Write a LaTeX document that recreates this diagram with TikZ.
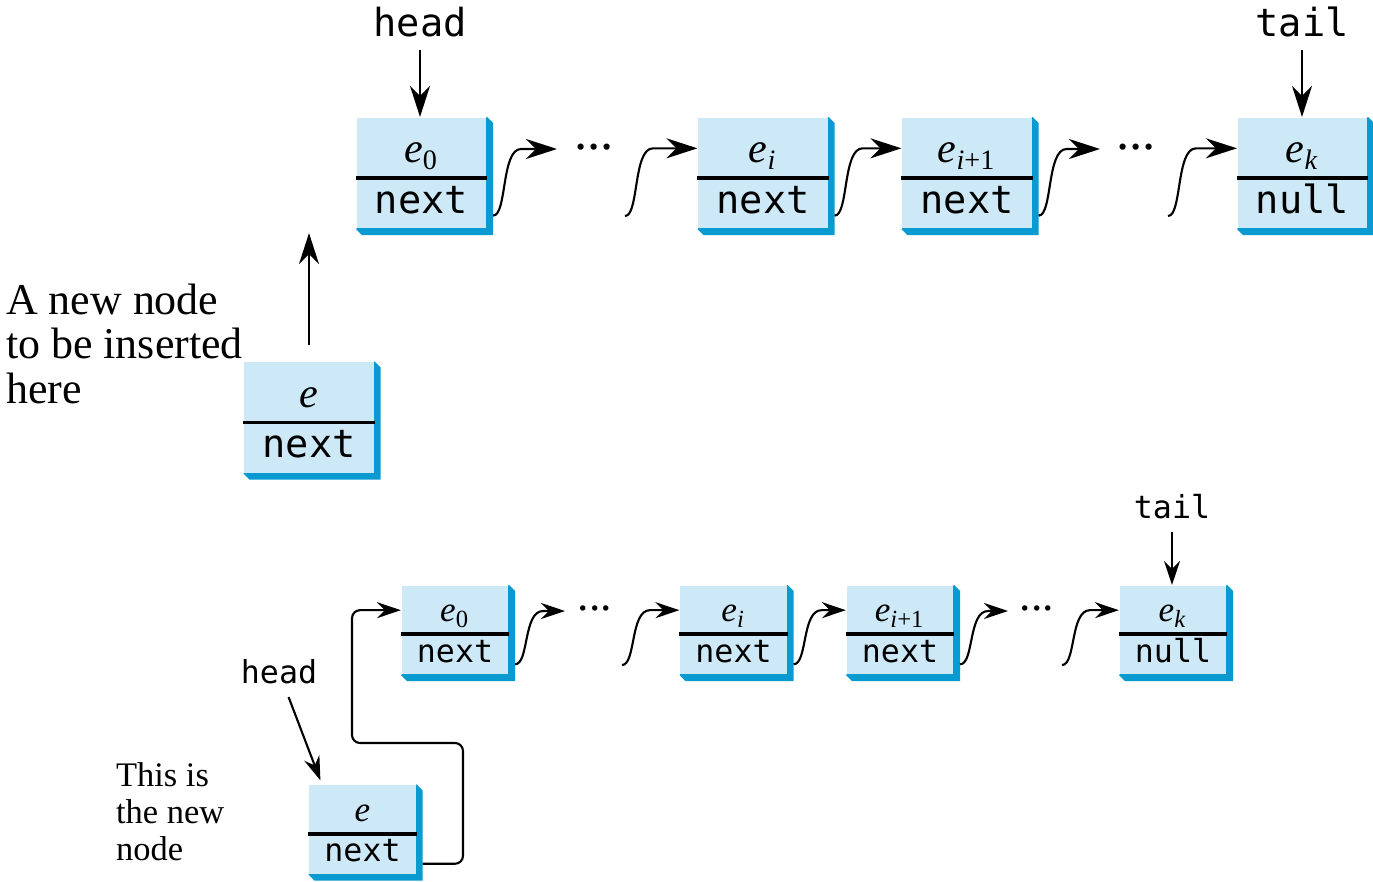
\documentclass[tikz,border=0pt]{standalone}
\usepackage{fontspec}
\setmainfont{Liberation Serif}
\setmonofont{DejaVu Sans Mono}
\usepackage{tikz}
\usetikzlibrary{arrows.meta,calc,positioning,backgrounds}
\definecolor{cellfill}{HTML}{CDE9F7}
\definecolor{cellshade}{HTML}{0A9AD2}

\newcommand\elem[1]{\textit{e}\textsubscript{#1}}
% one list node: style, name, centre, element, link field
\newcommand\listcell[5]{%
    \node[#1] (#2) at (#3) {};
    \node[#1 elem] (#2-elem) at ($(#2.north)!0.41!(#2.south)$) {#4};
    \node[#1 field] (#2-field) at ($(#2.north)!0.86!(#2.south)$) {#5};
    \draw[divider] ($(#2.north west)!0.545!(#2.south west)$)
        -- ($(#2.north east)!0.545!(#2.south east)$);
    \coordinate (#2-in) at ($(#2.north west)!0.28!(#2.south west)$);
    \coordinate (#2-out) at ($(#2.north east)!0.88!(#2.south east)+(6,0)$);
    \begin{scope}[on background layer]
        \fill[cellshade] (#2.north east) -- ++(6,6) -- ($(#2.south east)+(6,6)$)
            -- ($(#2.south west)+(6,6)$) -- (#2.south west) -- cycle;
    \end{scope}
}

\begin{document}
\begin{tikzpicture}
    [   x = 0.01cm
    ,   y = -0.01cm
    ,   bigcell/.style=
        {   rectangle
        ,   fill = cellfill
        ,   inner sep = 0pt
        ,   minimum width = 1.29cm
        ,   minimum height = 1.10cm
        }
    ,   bigcell elem/.style = {anchor=base, inner sep=0pt, font=\fontsize{12}{14}\selectfont}
    ,   bigcell field/.style = {anchor=base, inner sep=0pt, font=\ttfamily\fontsize{11}{13}\selectfont}
    ,   smallcell/.style=
        {   rectangle
        ,   fill = cellfill
        ,   inner sep = 0pt
        ,   minimum width = 1.06cm
        ,   minimum height = 0.88cm
        }
    ,   smallcell elem/.style = {anchor=base, inner sep=0pt, font=\fontsize{10}{12}\selectfont}
    ,   smallcell field/.style = {anchor=base, inner sep=0pt, font=\ttfamily\fontsize{9}{11}\selectfont}
    ,   bigtag/.style = {font=\ttfamily\fontsize{11}{13}\selectfont}
    ,   smalltag/.style = {font=\ttfamily\fontsize{9}{11}\selectfont}
    ,   note/.style = {anchor=north west, inner sep=0pt, align=left}
    ,   bigdots/.style = {inner sep=0pt, font=\fontsize{15}{16}\selectfont}
    ,   smalldots/.style = {inner sep=0pt, font=\fontsize{13}{14}\selectfont}
    ,   divider/.style = {line width=1.1pt}
    ,   link/.style=
        {   ->
        ,   line width = 0.6pt
        ,   to path = {let \p1=(\tikztostart), \p2=(\tikztotarget) in
                .. controls (\x1+0.14cm,\y1) and (\x1+0.08cm,\y2) .. (\x1+0.28cm,\y2)
                -- (\p2) \tikztonodes}
        }
    ,   every path/.append style = {line width=0.6pt}
    ,   > = {Stealth[length=0.31cm, width=0.2cm, inset=0.1cm]}
    ]
    \useasboundingbox (0,0) rectangle (1373,882);

    % before: list with the new node beside it
    \listcell{bigcell}{t0}{421.5,173}{\elem{0}}{next}
    \listcell{bigcell}{ti}{763,173}{\elem{\textit{i}}}{next}
    \listcell{bigcell}{ti1}{967,173}{\elem{\textit{i}+1}}{next}
    \listcell{bigcell}{tk}{1302.5,173}{\elem{\textit{k}}}{null}
    \listcell{bigcell}{me}{309,417.5}{\textit{e}}{next}

    \node[bigdots] (tdots1) at (594,147) {...};
    \node[bigdots] (tdots2) at (1136,147) {...};
    \coordinate (tdots1-in) at (557,149);
    \coordinate (tdots1-out) at (625,216);
    \coordinate (tdots2-in) at (1100,149);
    \coordinate (tdots2-out) at (1168,216);

    \draw[link] (t0-out) to (tdots1-in);
    \draw[link] (tdots1-out) to (ti-in);
    \draw[link] (ti-out) to (ti1-in);
    \draw[link] (ti1-out) to (tdots2-in);
    \draw[link] (tdots2-out) to (tk-in);

    \node[bigtag] (head) at (420,22) {head};
    \node[bigtag] (tail) at (1302,22) {tail};
    \draw[->] (head) -- (head |- t0.north);
    \draw[->] (tail) -- (tail |- tk.north);
    \draw[->, shorten <=0.16cm, shorten >=0.04cm] (me.north) -- (me.north |- t0.south);

    \node[note, font=\fontsize{12.5}{12.6}\selectfont] (newnote) at (5,283)
        {A new node\\to be inserted\\here};

    % after: new node linked in front of the head
    \begin{scope}[> = {Stealth[length=0.24cm, width=0.16cm, inset=0.08cm]}]
        \listcell{smallcell}{b0}{455,630}{\elem{0}}{next}
        \listcell{smallcell}{bi}{733.5,630}{\elem{\textit{i}}}{next}
        \listcell{smallcell}{bi1}{900,630}{\elem{\textit{i}+1}}{next}
        \listcell{smallcell}{bk}{1173,630}{\elem{\textit{k}}}{null}
        \listcell{smallcell}{be}{362.5,829.5}{\textit{e}}{next}

        \node[smalldots] (bdots1) at (595,608) {...};
        \node[smalldots] (bdots2) at (1037,608) {...};
        \coordinate (bdots1-in) at (565,611);
        \coordinate (bdots1-out) at (622,665);
        \coordinate (bdots2-in) at (1008,611);
        \coordinate (bdots2-out) at (1062,665);

        \draw[link] (b0-out) to (bdots1-in);
        \draw[link] (bdots1-out) to (bi-in);
        \draw[link] (bi-out) to (bi1-in);
        \draw[link] (bi1-out) to (bdots2-in);
        \draw[link] (bdots2-out) to (bk-in);

        \coordinate (loopA) at (463,743);
        \coordinate (loopB) at (352,743);
        \draw[->, rounded corners=0.08cm] (be-out) -| (loopA) -- (loopB) |- (b0-in);

        \node[smalltag] (bhead) at (279,672) {head};
        \node[smalltag] (btail) at (1172,507) {tail};
        \draw[->] (btail) -- (btail |- bk.north);
        \draw[->] (bhead) -- ($(be.north west)+(12,-4)$);
    \end{scope}

    \node[note, font=\fontsize{9.8}{10.4}\selectfont] (thisnote) at (115,762)
        {This is\\the new\\node};
\end{tikzpicture}
\end{document}
